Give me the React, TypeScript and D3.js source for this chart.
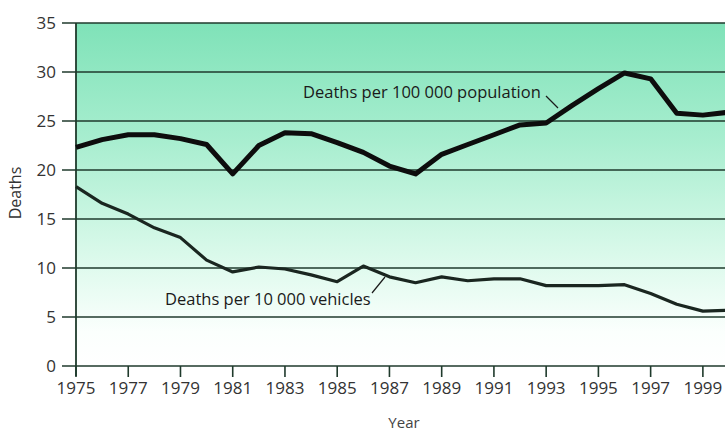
import * as React from 'react'
import { useEffect, useRef } from 'react'
import * as d3 from 'd3'

const years = [1975, 1976, 1977, 1978, 1979, 1980, 1981, 1982, 1983, 1984, 1985, 1986, 1987,
  1988, 1989, 1990, 1991, 1992, 1993, 1994, 1995, 1996, 1997, 1998, 1999, 2000]

const perPopulation = [22.3, 23.1, 23.6, 23.6, 23.2, 22.6, 19.6, 22.5, 23.8, 23.7, 22.8, 21.8, 20.4,
  19.6, 21.6, 22.6, 23.6, 24.6, 24.8, 26.6, 28.3, 29.9, 29.3, 25.8, 25.6, 25.9]

const perVehicles = [18.3, 16.6, 15.5, 14.1, 13.1, 10.8, 9.6, 10.1, 9.9, 9.3, 8.6, 10.2, 9.1,
  8.5, 9.1, 8.7, 8.9, 8.9, 8.2, 8.2, 8.2, 8.3, 7.4, 6.3, 5.6, 5.7]

const yTicks = [0, 5, 10, 15, 20, 25, 30, 35]
const xTicks = [1975, 1977, 1979, 1981, 1983, 1985, 1987, 1989, 1991, 1993, 1995, 1997, 1999]

const width = 725
const height = 435

const App = () => {
  const chartRef = useRef<SVGSVGElement>(null)

  useEffect(() => {
    const svg = d3.select(chartRef.current)
    svg.selectAll('*').remove()

    const x = d3.scaleLinear().domain([1975, 2000]).range([76, 729])
    const y = d3.scaleLinear().domain([0, 35]).range([366, 23])
    const font = '"Open Sans", sans-serif'

    // background fade, mint at the top to white near the bottom
    const grad = svg.append('defs').append('linearGradient')
      .attr('id', 'bg').attr('x1', 0).attr('x2', 0).attr('y1', 0).attr('y2', 1)
    const stops: [number, string][] = [[0, '#7fe2b8'], [0.35, '#a9eed0'], [0.67, '#d9f9ea'], [0.9, '#fbfffd'], [1, '#ffffff']]
    stops.forEach(([o, c]) => grad.append('stop').attr('offset', o).attr('stop-color', c))

    svg.append('rect')
      .attr('x', x(1975)).attr('y', y(35))
      .attr('width', width - x(1975)).attr('height', y(0) - y(35))
      .attr('fill', 'url(#bg)')

    // gridlines with the left tick stubs
    svg.append('g').selectAll('line')
      .data(yTicks)
      .enter()
      .append('line')
      .attr('x1', x(1975) - 14).attr('x2', width)
      .attr('y1', d => y(d)).attr('y2', d => y(d))
      .attr('stroke', '#1f3a2c').attr('stroke-width', 1.6)

    svg.append('g').selectAll('text')
      .data(yTicks)
      .enter()
      .append('text')
      .attr('x', 56).attr('y', d => y(d))
      .attr('dy', '0.35em')
      .attr('text-anchor', 'end')
      .style('font-family', font).style('font-size', '17px').attr('fill', '#333')
      .text(d => d)

    // y axis line
    svg.append('line')
      .attr('x1', x(1975)).attr('x2', x(1975))
      .attr('y1', y(35)).attr('y2', y(0) + 10)
      .attr('stroke', '#1f3a2c').attr('stroke-width', 1.8)

    // x ticks
    svg.append('g').selectAll('line')
      .data(xTicks)
      .enter()
      .append('line')
      .attr('x1', d => x(d)).attr('x2', d => x(d))
      .attr('y1', y(0)).attr('y2', y(0) + 11)
      .attr('stroke', '#1f3a2c').attr('stroke-width', 1.6)

    svg.append('g').selectAll('text')
      .data(xTicks)
      .enter()
      .append('text')
      .attr('x', d => x(d)).attr('y', 394)
      .attr('text-anchor', 'middle')
      .style('font-family', font).style('font-size', '17px').attr('fill', '#333')
      .text(d => d)

    svg.append('text')
      .attr('x', 404).attr('y', 428)
      .attr('text-anchor', 'middle')
      .style('font-family', font).style('font-size', '15px').attr('fill', '#444')
      .text('Year')

    svg.append('text')
      .attr('transform', 'translate(21, 193) rotate(-90)')
      .attr('text-anchor', 'middle')
      .style('font-family', font).style('font-size', '16px').attr('fill', '#333')
      .text('Deaths')

    const line = (vals: number[]) => d3.line<number>()
      .x((d, i) => x(years[i]))
      .y(d => y(d))(vals)

    svg.append('path')
      .attr('d', line(perVehicles))
      .attr('fill', 'none').attr('stroke', '#1a2620')
      .attr('stroke-width', 3.2).attr('stroke-linejoin', 'round')

    svg.append('path')
      .attr('d', line(perPopulation))
      .attr('fill', 'none').attr('stroke', '#0d0d0d')
      .attr('stroke-width', 5).attr('stroke-linejoin', 'round')

    // labels with leader lines
    svg.append('text')
      .attr('x', 303).attr('y', 98)
      .style('font-family', font).style('font-size', '16.5px').attr('fill', '#1a1a1a')
      .text('Deaths per 100 000 population')
    svg.append('line')
      .attr('x1', 546).attr('y1', 96).attr('x2', 558).attr('y2', 108)
      .attr('stroke', '#1a1a1a').attr('stroke-width', 1.2)

    svg.append('text')
      .attr('x', 165).attr('y', 305)
      .style('font-family', font).style('font-size', '16.5px').attr('fill', '#1a1a1a')
      .text('Deaths per 10 000 vehicles')
    svg.append('line')
      .attr('x1', 372).attr('y1', 293).attr('x2', 385).attr('y2', 277)
      .attr('stroke', '#1a1a1a').attr('stroke-width', 1.2)
  }, [])

  return (
    <svg ref={chartRef} width={width} height={height}
      style={{ position: 'absolute', top: 0, left: 0, background: '#fff' }}></svg>
  )
}

export default App
